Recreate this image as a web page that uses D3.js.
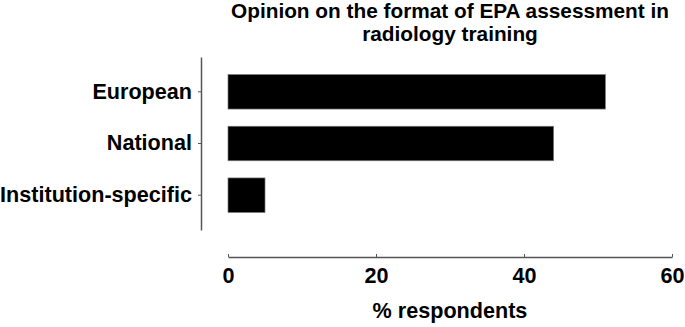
<!DOCTYPE html>
<html>
<head>
<meta charset="utf-8">
<script src="https://cdn.jsdelivr.net/npm/d3@7"></script>
<style>
  body { margin: 0; background: #fff; }
  text { font-family: "Liberation Sans", Arial, sans-serif; font-weight: bold; fill: #000; }
</style>
</head>
<body>
<div id="container"></div>
<script>
const categories = ['European', 'National', 'Institution-specific'];
const values = [51, 44, 5];
const xTicks = [0, 20, 40, 60];
const titleLines = ['Opinion on the format of EPA assessment in', 'radiology training'];
const xLabel = '% respondents';

const width = 685, height = 327;
const fs = '21.6px';

const svg = d3.select('#container')
    .append('svg')
    .attr('width', width)
    .attr('height', height);

const x = d3.scaleLinear().domain([0, 60]).range([228, 672]);
const y = d3.scaleBand().domain(categories).range([57, 230]).paddingInner(0.333).paddingOuter(0.34);

// title
svg.append('g').selectAll('text')
    .data(titleLines)
    .join('text')
    .attr('x', 450)
    .attr('y', (d, i) => 18 + i * 23)
    .attr('text-anchor', 'middle')
    .style('font-size', '20.8px')
    .text(d => d);

// bars
svg.append('g').selectAll('rect')
    .data(values)
    .join('rect')
    .attr('x', x(0))
    .attr('y', (d, i) => y(categories[i]))
    .attr('width', d => x(d) - x(0))
    .attr('height', y.bandwidth())
    .attr('fill', '#000')
    .attr('stroke', '#777')
    .attr('stroke-width', 0.7);

// y axis
const yAxis = svg.append('g')
    .attr('transform', 'translate(201,0)')
    .call(d3.axisLeft(y).tickSize(3).tickPadding(6).tickSizeOuter(0));
yAxis.select('.domain').attr('stroke', '#555').attr('stroke-width', 1.5);
yAxis.selectAll('.tick line').attr('stroke', '#555');
yAxis.selectAll('.tick text').style('font-size', fs).style('font-family', null);

// x axis
const xAxis = svg.append('g')
    .attr('transform', 'translate(0,257)')
    .call(d3.axisBottom(x).tickValues(xTicks).tickSize(-3).tickPadding(11).tickSizeOuter(0));
xAxis.select('.domain').attr('stroke', '#555').attr('stroke-width', 1.5);
xAxis.selectAll('.tick line').attr('stroke', '#555');
xAxis.selectAll('.tick text').style('font-size', fs).style('font-family', null);

svg.append('text')
    .attr('x', 450)
    .attr('y', 318)
    .attr('text-anchor', 'middle')
    .style('font-size', fs)
    .text(xLabel);
</script>
</body>
</html>
